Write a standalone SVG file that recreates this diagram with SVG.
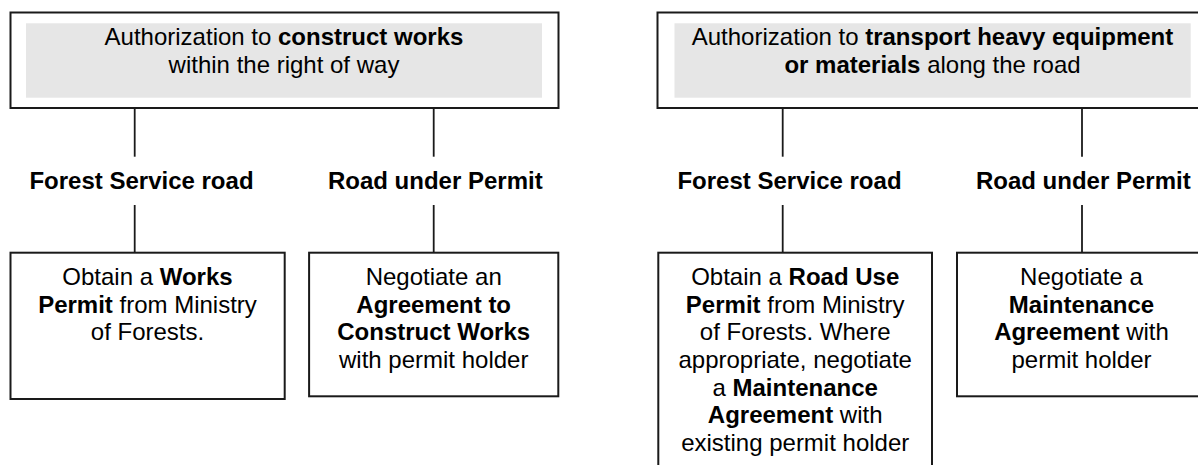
<svg xmlns="http://www.w3.org/2000/svg" width="1198" height="465" viewBox="0 0 1198 465">
<style>
.box{fill:#ffffff;stroke:#1a1a1a;stroke-width:2}
.shade{fill:#e6e6e6;stroke:none}
.conn{stroke:#1a1a1a;stroke-width:1.8;fill:none}
text{font-family:"Liberation Sans",Arial,sans-serif;font-size:24px;fill:#000;text-anchor:middle}
.b{font-weight:bold}
</style>
<rect width="1198" height="465" fill="#ffffff"/>
<g id="connectors">
<line class="conn" x1="134.7" y1="108" x2="134.7" y2="156.7"/>
<line class="conn" x1="134.7" y1="205" x2="134.7" y2="252.7"/>
<line class="conn" x1="433.7" y1="108" x2="433.7" y2="156.7"/>
<line class="conn" x1="433.7" y1="205" x2="433.7" y2="252.7"/>
<line class="conn" x1="782.7" y1="108" x2="782.7" y2="156.7"/>
<line class="conn" x1="782.7" y1="205" x2="782.7" y2="252.7"/>
<line class="conn" x1="1082" y1="108" x2="1082" y2="156.7"/>
<line class="conn" x1="1082" y1="205" x2="1082" y2="252.7"/>
</g>
<g id="top-left">
<rect class="box" x="10.5" y="12.5" width="548" height="95.5"/>
<rect class="shade" x="26" y="23.3" width="516" height="74.4"/>
<text x="284" y="45">Authorization to <tspan class="b">construct works</tspan></text>
<text x="284" y="72.7">within the right of way</text>
</g>
<g id="top-right">
<rect class="box" x="657.5" y="12.5" width="560" height="95.5"/>
<rect class="shade" x="674.5" y="23.3" width="516.2" height="74.4"/>
<text x="932.5" y="45">Authorization to <tspan class="b">transport heavy equipment</tspan></text>
<text x="932.5" y="72.7"><tspan class="b">or materials</tspan> along the road</text>
</g>
<g id="label-fs-left"><text class="b" x="141.5" y="189.3">Forest Service road</text></g>
<g id="label-rp-left"><text class="b" x="435.3" y="189.3">Road under Permit</text></g>
<g id="label-fs-right"><text class="b" x="789.5" y="189.3">Forest Service road</text></g>
<g id="label-rp-right"><text class="b" x="1083.3" y="189.3">Road under Permit</text></g>
<g id="works-permit">
<rect class="box" x="10.5" y="252.7" width="274.2" height="146.3"/>
<text x="147.5" y="285">Obtain a <tspan class="b">Works</tspan></text>
<text x="147.5" y="312.7"><tspan class="b">Permit</tspan> from Ministry</text>
<text x="147.5" y="340.3">of Forests.</text>
</g>
<g id="agreement-construct">
<rect class="box" x="309.1" y="252.7" width="249.2" height="143.6"/>
<text x="433.7" y="285">Negotiate an</text>
<text x="433.7" y="312.7" class="b">Agreement to</text>
<text x="433.7" y="340.3" class="b">Construct Works</text>
<text x="433.7" y="368">with permit holder</text>
</g>
<g id="road-use-permit">
<rect class="box" x="658.3" y="252.7" width="273.7" height="230"/>
<text x="795.2" y="285">Obtain a <tspan class="b">Road Use</tspan></text>
<text x="795.2" y="312.7"><tspan class="b">Permit</tspan> from Ministry</text>
<text x="795.2" y="340.3">of Forests. Where</text>
<text x="795.2" y="368">appropriate, negotiate</text>
<text x="795.2" y="395.6">a <tspan class="b">Maintenance</tspan></text>
<text x="795.2" y="423.3"><tspan class="b">Agreement</tspan> with</text>
<text x="795.2" y="450.9">existing permit holder</text>
</g>
<g id="maintenance-agreement">
<rect class="box" x="957" y="252.7" width="250" height="143.6"/>
<text x="1081.5" y="285">Negotiate a</text>
<text x="1081.5" y="312.7" class="b">Maintenance</text>
<text x="1081.5" y="340.3"><tspan class="b">Agreement</tspan> with</text>
<text x="1081.5" y="368">permit holder</text>
</g>
</svg>
